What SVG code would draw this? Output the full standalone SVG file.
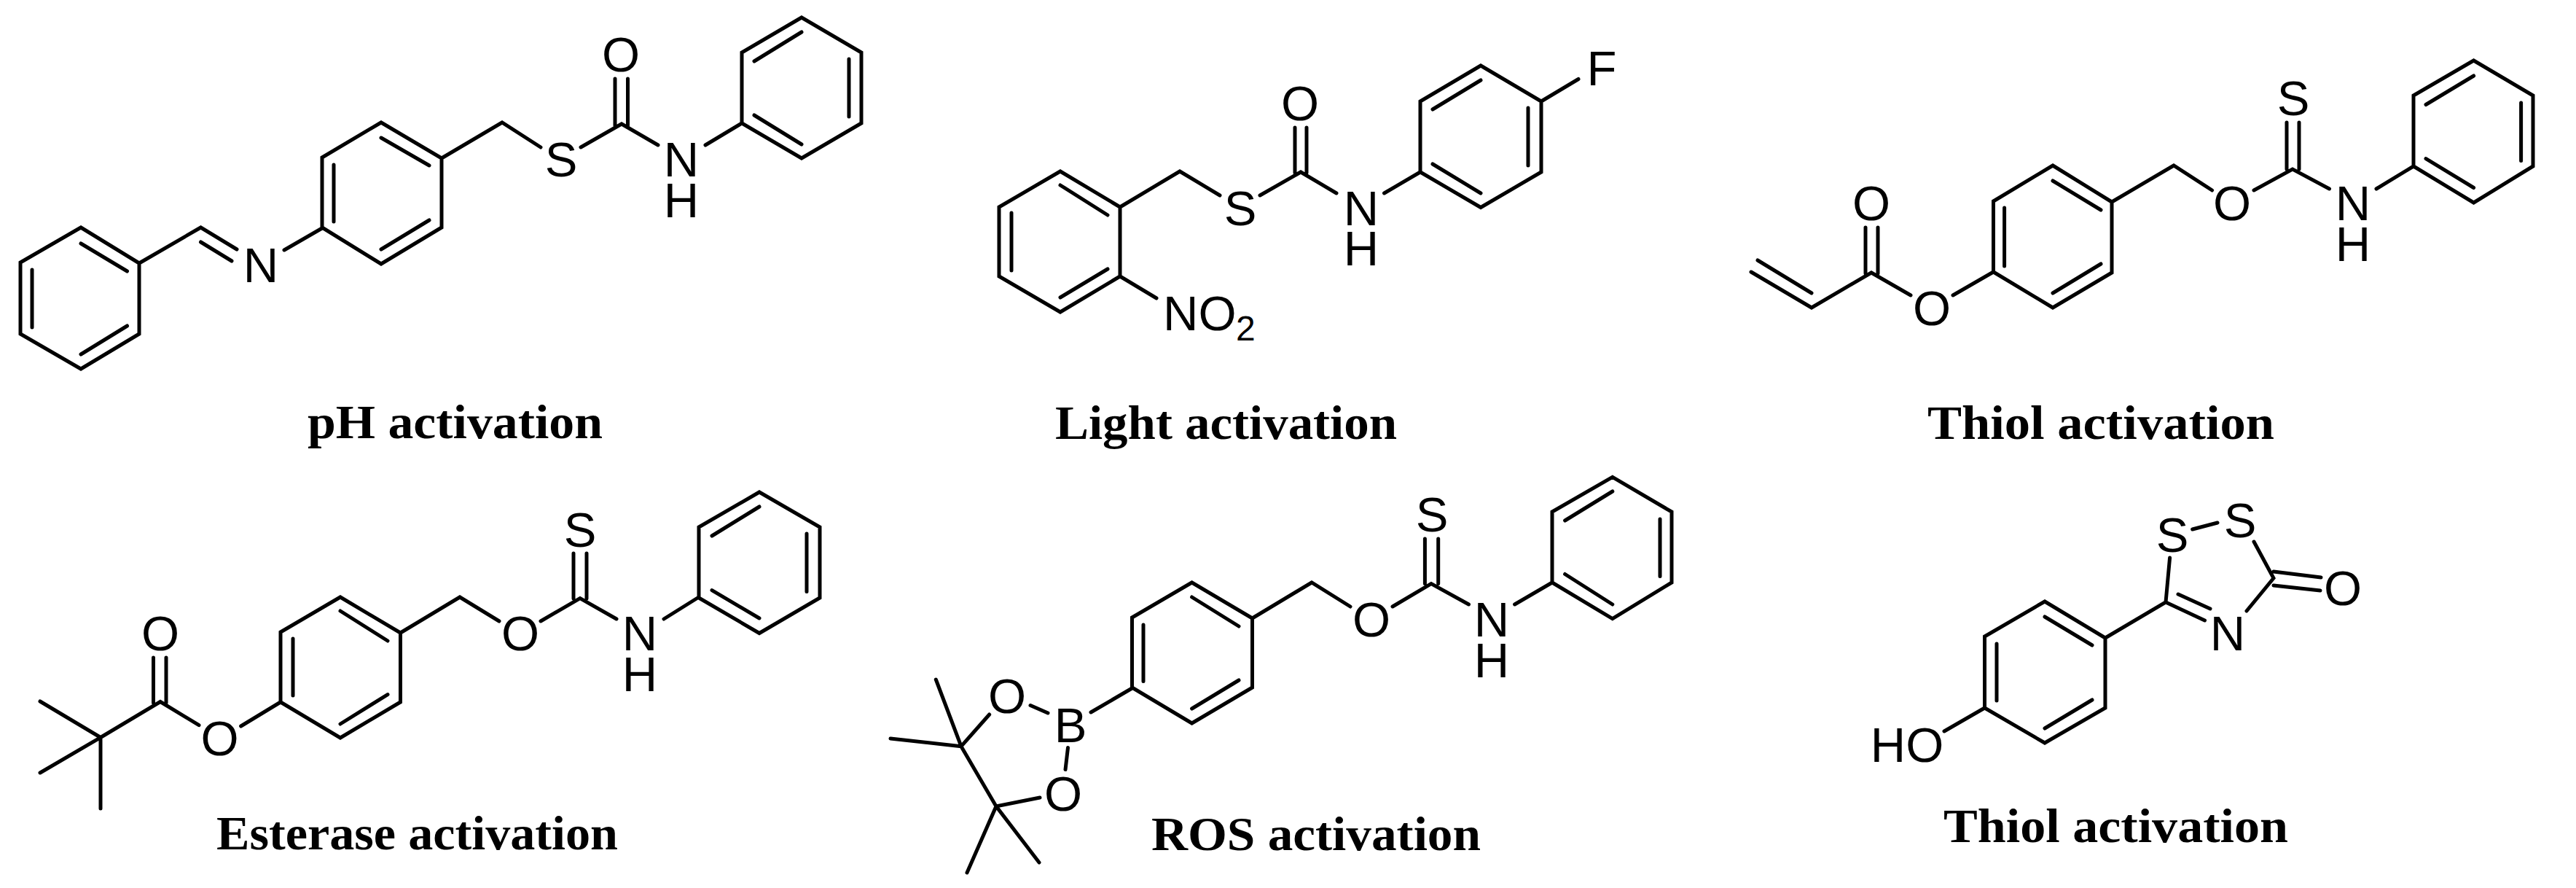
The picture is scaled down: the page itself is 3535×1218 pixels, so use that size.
<svg xmlns="http://www.w3.org/2000/svg" width="3535" height="1218" viewBox="0 0 3535 1218">
<style>
.b{fill:none;stroke:#000;stroke-width:5;stroke-linejoin:miter;stroke-linecap:round}
.a{font-family:"Liberation Sans",Arial,sans-serif;font-size:67px;fill:#000;text-anchor:middle}
.s{font-family:"Liberation Sans",Arial,sans-serif;font-size:48px;fill:#000}
.l{font-family:"Liberation Serif","Times New Roman",serif;font-size:65px;font-weight:700;fill:#000}
</style>
<rect width="3535" height="1218" fill="#fff"/>
<g id="mol-ph">
<path class="b" d="M111 312L191 361V458L111 506L28 458V360ZM111 334L174.500 372M174.500 447L111 486M44 370V449M191 361L275.500 312L325 342M275.500 332L318 358M390 343L442 313M523 168L606 217V312L523 362L442 312V216ZM523 189L589 227M589 302L523 342M458 226V304M606 217L689 168L742 202M797 202L853 170L903 199M844 108V172M861.500 108V172M968 199L1018 169M1100 24L1182 72V169L1100 217L1018 169V72ZM1100 44L1035 84M1165 81V160M1035 158L1100 198"/>
<text class="a" x="358" y="387">N</text>
<text class="a" x="770" y="242">S</text>
<text class="a" x="852" y="98">O</text>
<text class="a"><tspan x="935" y="242">N</tspan><tspan x="935" y="298">H</tspan></text>
<text class="l" x="422" y="601" textLength="405" lengthAdjust="spacingAndGlyphs">pH activation</text>
</g>
<g id="mol-light">
<path class="b" d="M1455 235L1537 284V379L1455 428L1371 379V284ZM1455 254L1520 295M1520 369L1455 408M1388 292V371M1537 284L1619 235L1674 268M1729 268L1785 236L1834 265M1777 175V237M1793 175V237M1899.500 265L1949 236M2032 90L2115 139V236L2032 284.500L1949 236V139ZM2032 110L1966 150M2097 148V227M1966 225L2032 265M2115 139L2166 108.500M1537 379L1587 409"/>
<text class="a" x="1702" y="309">S</text>
<text class="a" x="1784" y="165">O</text>
<text class="a"><tspan x="1868" y="309">N</tspan><tspan x="1868" y="364">H</tspan></text>
<text class="a" x="2198" y="117">F</text>
<text class="a" x="1596" y="453" style="text-anchor:start">NO</text>
<text class="s" x="1696" y="467">2</text>
<text class="l" x="1448" y="602" textLength="469" lengthAdjust="spacingAndGlyphs">Light activation</text>
</g>
<g id="mol-thiol-1">
<path class="b" d="M2403 373L2486 422L2568 374L2622 405M2412 357L2486 402M2560 312V375M2577 312V375M2680 405L2735.500 373M2817 227L2898 277V374L2817 422L2735.500 373V276ZM2817 248L2883 288M2883 362L2817 402M2750.600 285V365M2898 277L2983 227L3035.600 261M3093 261L3146 232L3196.500 259M3138 168V232M3155 168V232M3261 259L3312 228M3394.600 83L3476 131V228L3394.600 278L3312 228V131ZM3394.600 104L3329 143.500M3459.600 141V220.600M3329 217.600L3394.600 257.500"/>
<text class="a" x="2568" y="302">O</text>
<text class="a" x="2651" y="446">O</text>
<text class="a" x="3063" y="302">O</text>
<text class="a" x="3147" y="158">S</text>
<text class="a"><tspan x="3229" y="302">N</tspan><tspan x="3229" y="358">H</tspan></text>
<text class="l" x="2645" y="602" textLength="476" lengthAdjust="spacingAndGlyphs">Thiol activation</text>
</g>
<g id="mol-esterase">
<path class="b" d="M55 962L138 1011.500L220 962.500L273 994.600M55 1060L138 1011.500V1109M210.500 902V964M228 902V964M330.600 996L385 963M467 819L549.500 868V963L467 1012L385 963V867ZM467 838L532 879M532 952.600L467 993M402 876V954M549.500 868L631 819L685 852M742 852L796 820.600L846 849M787 759V821M805 759V821M911 849L959 819M1042 675L1125 723V820L1042 868.500L959 820V723ZM1042 695L977 735M1107 732V811.400M977 809.600L1042 848"/>
<text class="a" x="220" y="892">O</text>
<text class="a" x="301.500" y="1036">O</text>
<text class="a" x="714" y="892">O</text>
<text class="a" x="796" y="749.500">S</text>
<text class="a"><tspan x="878" y="892">N</tspan><tspan x="878" y="948">H</tspan></text>
<text class="l" x="297" y="1165" textLength="551" lengthAdjust="spacingAndGlyphs">Esterase activation</text>
</g>
<g id="mol-ros">
<path class="b" d="M1635.600 799L1718.500 848V943L1635.600 992L1553.500 943V847ZM1635.600 819L1700 859M1700 933L1635.600 972M1569 857V934.500M1718.500 848L1800 799L1853 832M1911 832L1964 800.600L2015.500 829M1955.400 739V800.600M1973.700 739V800.600M2078.600 829L2130 799M2212.800 654.400L2294 702V799L2212.800 848.600L2130 799V702ZM2212.800 674L2147.600 714M2278 712V790.500M2147.600 787.500L2212.800 829M1497 977L1553.500 944M1414 967.500L1438 978M1465.500 1025.600L1462 1055.600M1357.700 980L1319 1023.700L1367 1106L1427 1094M1284.300 932L1319 1023.700M1222 1013L1319 1023.700M1327 1197L1367 1106L1426 1183"/>
<text class="a" x="1882" y="873">O</text>
<text class="a" x="1965" y="729">S</text>
<text class="a"><tspan x="2047" y="873">N</tspan><tspan x="2047" y="929">H</tspan></text>
<text class="a" x="1469" y="1018">B</text>
<text class="a" x="1382" y="978">O</text>
<text class="a" x="1459" y="1112">O</text>
<text class="l" x="1580" y="1166" textLength="452" lengthAdjust="spacingAndGlyphs">ROS activation</text>
</g>
<g id="mol-thiol-2">
<path class="b" d="M2806 825L2889 875V971L2806 1019L2723.500 971V873ZM2806 846L2871 885M2871 960L2806 999M2740 883V961M2889 875L2972 826L2977.600 765M2972 826L3025.500 851M2989 815L3033 835M3008.700 726L3043 717M3093 743L3120 793L3083 838M3120 784L3185 792M3120 803L3184 810M2668 1003L2723.500 971"/>
<text class="a" x="2981" y="757">S</text>
<text class="a" x="3074" y="737">S</text>
<text class="a" x="3057" y="892">N</text>
<text class="a" x="3215" y="830">O</text>
<text class="a" x="2617" y="1045">HO</text>
<text class="l" x="2667" y="1155" textLength="473" lengthAdjust="spacingAndGlyphs">Thiol activation</text>
</g>
</svg>
